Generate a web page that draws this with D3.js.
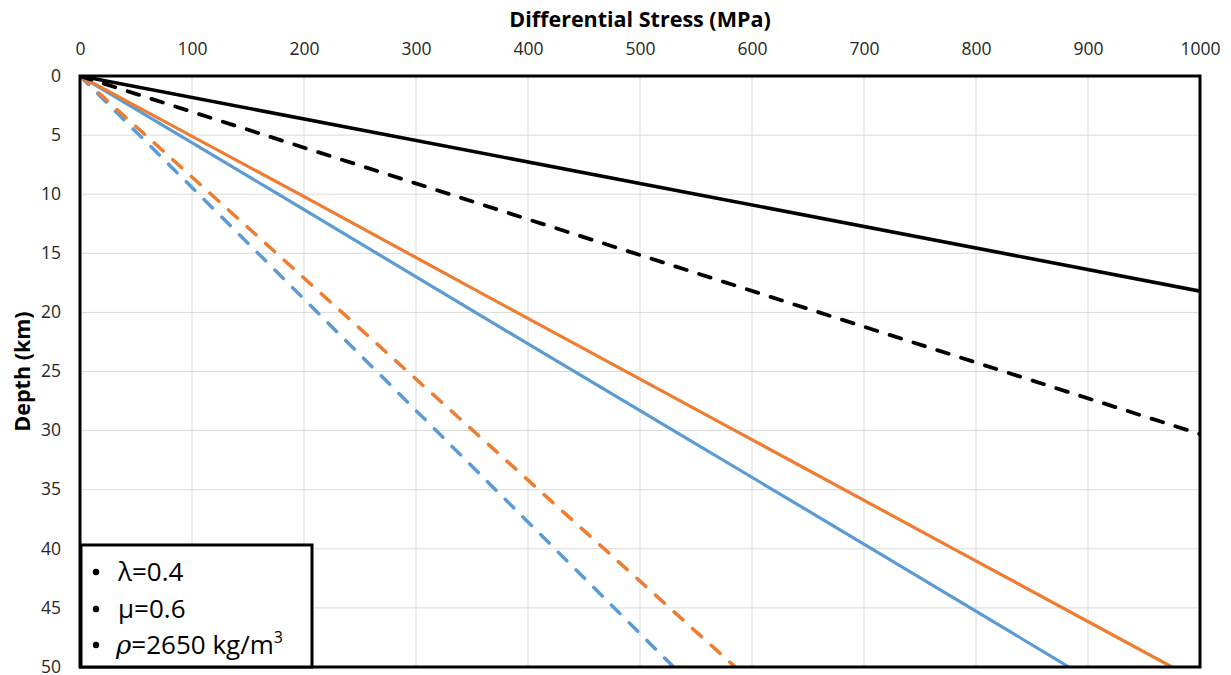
<!DOCTYPE html>
<html>
<head>
<meta charset="utf-8">
<script src="https://cdn.jsdelivr.net/npm/d3@7"></script>
<style>
  html, body { margin: 0; padding: 0; background: #fff; }
  svg { display: block; }
  .tick-label { font-family: "Open Sans", sans-serif; font-size: 17.5px; fill: #262626; }
  .axis-title { font-family: "Open Sans", sans-serif; font-size: 21.5px; font-weight: bold; fill: #000; }
  .note { font-family: "Open Sans", sans-serif; font-size: 26px; fill: #000; }
</style>
</head>
<body>
<svg id="chart" width="1231" height="675"></svg>
<script>
// Depth profiles of differential stress (depth in km, stress in MPa)
const xTicks = [0, 100, 200, 300, 400, 500, 600, 700, 800, 900, 1000];
const yTicks = [0, 5, 10, 15, 20, 25, 30, 35, 40, 45, 50];

const blackSolidDepth = [0, 10, 18.2];
const blackSolidStress = [0, 550, 1000];

const blackDashDepth = [0, 10, 20, 30.3];
const blackDashStress = [0, 330, 660, 1000];

const orangeSolidDepth = [0, 10, 20, 30, 40, 50];
const orangeSolidStress = [0, 196, 390, 585, 780, 975];

const orangeDashDepth = [0, 10, 20, 30, 40, 50];
const orangeDashStress = [0, 117, 234, 351, 468, 585];

const blueSolidDepth = [0, 10, 20, 30, 40, 50];
const blueSolidStress = [0, 177, 353, 530, 707, 883];

const blueDashDepth = [0, 10, 20, 30, 40, 50];
const blueDashStress = [0, 106, 212, 318, 424, 530];

const notes = ["λ=0.4", "μ=0.6"];

const series = [
  { depth: blueDashDepth, stress: blueDashStress, color: "#5B9BD5", dashed: true, width: 3.5 },
  { depth: orangeDashDepth, stress: orangeDashStress, color: "#ED7D31", dashed: true, width: 3.5 },
  { depth: blueSolidDepth, stress: blueSolidStress, color: "#5B9BD5", dashed: false, width: 3.2 },
  { depth: orangeSolidDepth, stress: orangeSolidStress, color: "#ED7D31", dashed: false, width: 3.2 },
  { depth: blackDashDepth, stress: blackDashStress, color: "#000000", dashed: true, width: 3.8 },
  { depth: blackSolidDepth, stress: blackSolidStress, color: "#000000", dashed: false, width: 3.6 }
];

const svg = d3.select("#chart");
const m = { left: 80, right: 1200, top: 76, bottom: 667 };

const x = d3.scaleLinear().domain([0, 1000]).range([m.left, m.right]);
const y = d3.scaleLinear().domain([0, 50]).range([m.top, m.bottom]);

svg.append("defs").append("clipPath").attr("id", "plot-clip")
  .append("rect")
  .attr("x", m.left).attr("y", m.top)
  .attr("width", m.right - m.left).attr("height", m.bottom - m.top);

// gridlines
const grid = svg.append("g");
grid.selectAll("line.v").data(xTicks.slice(1, -1)).join("line")
  .attr("x1", d => x(d)).attr("x2", d => x(d))
  .attr("y1", m.top).attr("y2", m.bottom)
  .attr("stroke", "#D9D9D9").attr("stroke-width", 1);
grid.selectAll("line.h").data(yTicks.slice(1, -1)).join("line")
  .attr("x1", m.left).attr("x2", m.right)
  .attr("y1", d => y(d)).attr("y2", d => y(d))
  .attr("stroke", "#D9D9D9").attr("stroke-width", 1);

// axes (top and left), domain lines hidden; the frame is drawn separately
const xAxis = d3.axisTop(x).tickValues(xTicks).tickFormat(d3.format("d")).tickSize(0).tickPadding(0);
const gx = svg.append("g").attr("transform", `translate(0,${m.top - 21})`).call(xAxis);
gx.select(".domain").remove();
gx.selectAll("text").attr("class", "tick-label").attr("dy", 0);

const yAxis = d3.axisLeft(y).tickValues(yTicks).tickFormat(d3.format("d")).tickSize(0).tickPadding(0);
const gy = svg.append("g").attr("transform", `translate(${m.left - 19},0)`).call(yAxis);
gy.select(".domain").remove();
gy.selectAll("text").attr("class", "tick-label").attr("dy", "0.3em");

// series
const line = d3.line()
  .x(d => x(d.s))
  .y(d => y(d.z));

const lines = svg.append("g").attr("clip-path", "url(#plot-clip)");
series.forEach(s => {
  const pts = s.depth.map((z, i) => ({ z, s: s.stress[i] }));
  lines.append("path")
    .datum(pts)
    .attr("d", line)
    .attr("fill", "none")
    .attr("stroke", s.color)
    .attr("stroke-width", s.width)
    .attr("stroke-linecap", s.dashed ? "round" : "butt")
    .attr("stroke-linejoin", "round")
    .attr("stroke-dasharray", s.dashed ? "12,13" : null);
});

// plot frame
svg.append("rect")
  .attr("x", m.left).attr("y", m.top)
  .attr("width", m.right - m.left).attr("height", m.bottom - m.top)
  .attr("fill", "none").attr("stroke", "#000").attr("stroke-width", 3);

// axis titles
svg.append("text").attr("class", "axis-title")
  .attr("x", (m.left + m.right) / 2).attr("y", 27)
  .attr("text-anchor", "middle")
  .text("Differential Stress (MPa)");

svg.append("text").attr("class", "axis-title")
  .attr("transform", `translate(30,${(m.top + m.bottom) / 2}) rotate(-90)`)
  .attr("text-anchor", "middle")
  .text("Depth (km)");

// parameter box
const box = svg.append("g");
box.append("rect")
  .attr("x", 81).attr("y", 545)
  .attr("width", 231).attr("height", 122)
  .attr("fill", "#fff").attr("stroke", "#000").attr("stroke-width", 3);

const rowY = [581, 618, 654];
rowY.forEach(yy => {
  box.append("circle")
    .attr("cx", 96).attr("cy", yy - 9).attr("r", 3.2).attr("fill", "#000");
});
notes.forEach((t, i) => {
  box.append("text").attr("class", "note")
    .attr("x", 118).attr("y", rowY[i]).text(t);
});
const rho = box.append("text").attr("class", "note")
  .attr("x", 116).attr("y", rowY[2]);
rho.append("tspan").attr("font-style", "italic").attr("font-family", "'DejaVu Serif', serif").text("ρ");
rho.append("tspan").text("=2650 kg/m");
rho.append("tspan").attr("font-size", "16px").attr("dy", -11).text("3");
</script>
</body>
</html>
